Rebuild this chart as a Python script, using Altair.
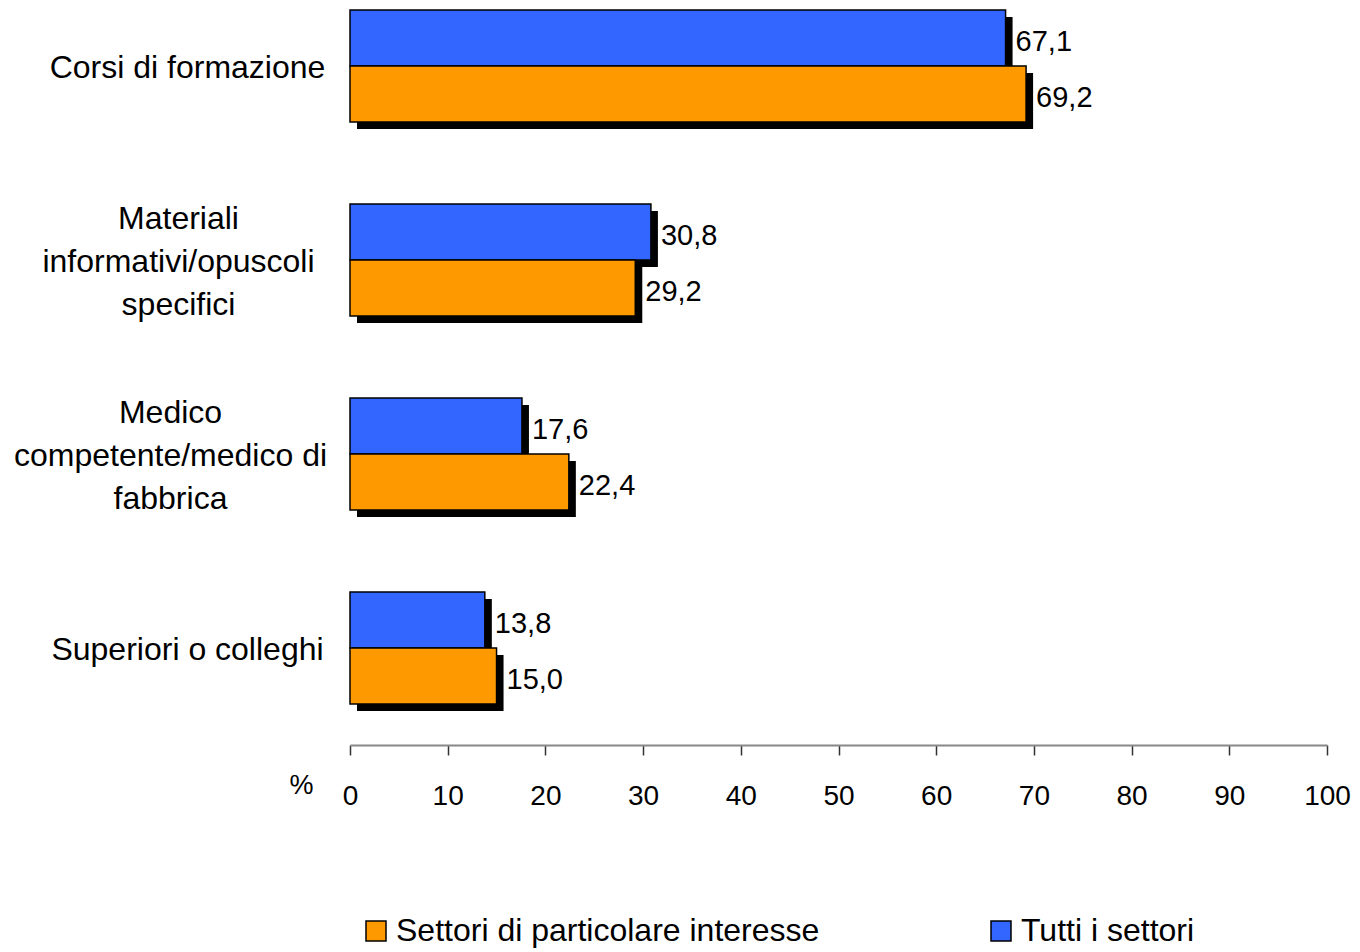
import altair as alt
import pandas as pd

categories = ["Corsi di formazione",
              "Materiali|informativi/opuscoli|specifici",
              "Medico|competente/medico di|fabbrica",
              "Superiori o colleghi"]
series = ["Settori di particolare interesse", "Tutti i settori"]
settori = [69.2, 29.2, 22.4, 15.0]
tutti = [67.1, 30.8, 17.6, 13.8]
ticks = [0, 10, 20, 30, 40, 50, 60, 70, 80, 90, 100]
colors = ["#FF9900", "#3366FF"]

rows = []
for c, s, t in zip(categories, settori, tutti):
    rows.append({"cat": c, "serie": series[1], "value": t})
    rows.append({"cat": c, "serie": series[0], "value": s})
df = pd.DataFrame(rows)

FONT = "Liberation Sans"
SH = 7  # shadow offset in pixels
BW = 112  # bandwidth of a category group in pixels

x = alt.X("value:Q", scale=alt.Scale(domain=[0, 100], nice=False),
          axis=alt.Axis(values=ticks, grid=False, title="%", titleX=-49, titleY=40,
                        titleAlign="center", titleBaseline="middle",
                        titleFontWeight="normal", titleFontSize=27, titleFont=FONT,
                        titleColor="black",
                        domainColor="#888888", domainWidth=2, tickColor="#333333",
                        tickSize=10, tickWidth=1.5, labelFontSize=28, labelFont=FONT,
                        labelColor="black", labelPadding=27, labelFlush=False))
y = alt.Y("cat:N", sort=categories,
          scale=alt.Scale(paddingInner=0.4227, paddingOuter=0.1108, align=0.0465),
          axis=alt.Axis(title=None, domain=False, ticks=False, tickSize=0,
                        labelAlign="center", labelBaseline="middle",
                        labelPadding={"condition": [
                            {"test": "indexof(datum.value, 'Materiali') >= 0", "value": 172},
                            {"test": "indexof(datum.value, 'Medico') >= 0", "value": 180},
                        ], "value": 163},
                        labelFontSize=32, labelFont=FONT, labelColor="black",
                        labelLimit=500, labelLineHeight=43,
                        labelOffset={"condition": {"test": "indexof(datum.value, '|') >= 0",
                                                   "value": -41}, "value": 2},
                        labelExpr="split(datum.label, '|')"))
yoff = alt.YOffset("serie:N", sort=[series[1], series[0]],
                   scale=alt.Scale(paddingInner=0, paddingOuter=0))
yoff_sh = alt.YOffset("serie:N", sort=[series[1], series[0]],
                      scale=alt.Scale(paddingInner=0, paddingOuter=0, range=[SH, BW + SH]))
yoff_txt = alt.YOffset("serie:N", sort=[series[1], series[0]],
                       scale=alt.Scale(padding=0, range=[BW / 4, 3 * BW / 4]))

base = alt.Chart(df)

shadow = base.mark_bar(color="black", xOffset=SH).encode(x=x, y=y, yOffset=yoff_sh)

bars = base.mark_bar(stroke="black", strokeWidth=1.5, opacity=1).encode(
    x=x, y=y, yOffset=yoff,
    color=alt.Color("serie:N", scale=alt.Scale(domain=series, range=colors),
                    legend=alt.Legend(title=None, orient="none", direction="horizontal",
                                      legendX=10, legendY=907, padding=0,
                                      symbolType="square", symbolSize=400,
                                      symbolStrokeColor="black", symbolStrokeWidth=1.5,
                                      symbolOpacity=1,
                                      labelFontSize=32, labelFont=FONT, labelColor="black",
                                      labelOffset=4, columnPadding=165,
                                      labelLimit=600)))

labels = base.mark_text(align="left", baseline="middle", dx=10, dy=4, fontSize=29,
                        font=FONT, color="black").transform_calculate(
    lbl="replace(format(datum.value, '.1f'), '.', ',')"
).encode(x=x, y=y, yOffset=yoff_txt, text="lbl:N")

chart = alt.layer(shadow, bars, labels).resolve_scale(yOffset="independent").properties(
    width=977, height=737,
    autosize=alt.AutoSizeParams(type="none"),
    padding={"left": 342, "top": 0, "right": 25, "bottom": 206},
).configure_view(stroke=None)

chart.save("out.html", embed_options={"renderer": "svg", "actions": False})
